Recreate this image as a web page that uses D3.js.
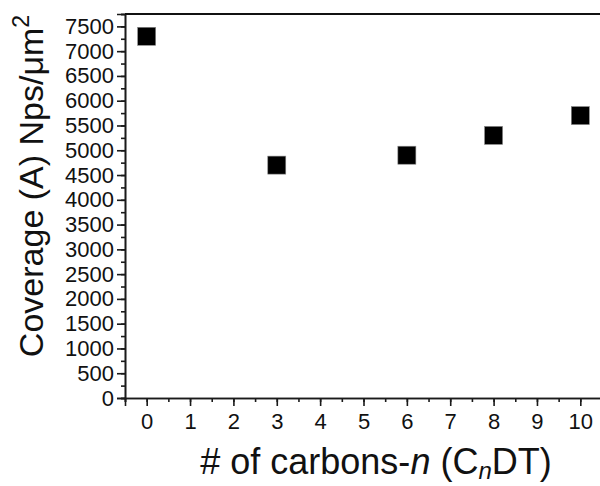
<!DOCTYPE html>
<html>
<head>
<meta charset="utf-8">
<script src="https://cdn.jsdelivr.net/npm/d3@7"></script>
<style>
  body { margin: 0; background: #fff; }
  svg { display: block; font-family: "Liberation Sans", Arial, sans-serif; }
</style>
</head>
<body>
<svg id="chart" width="600" height="486"></svg>
<script>
// data
var carbons = [0, 3, 6, 8, 10];
var coverage = [7300, 4700, 4900, 5300, 5700];
var xTicks = [0, 1, 2, 3, 4, 5, 6, 7, 8, 9, 10];
var yTicks = d3.range(0, 7501, 500);

var svg = d3.select("#chart");

var xScale = d3.scaleLinear()
    .domain([-0.5, 10.5])
    .range([125, 602]);

var yScale = d3.scaleLinear()
    .domain([0, 7750])
    .range([398, 14]);

// minor ticks
var xAxisMinor = d3.axisBottom(xScale)
    .tickValues(d3.range(-0.5, 10.6, 0.5))
    .tickSize(4)
    .tickFormat("");
var yAxisMinor = d3.axisLeft(yScale)
    .tickValues(d3.range(0, 7751, 250))
    .tickSize(4)
    .tickFormat("");

svg.append("g")
    .attr("transform", "translate(0,398)")
    .call(xAxisMinor);
svg.append("g")
    .attr("transform", "translate(125,0)")
    .call(yAxisMinor);

var xAxis = d3.axisBottom(xScale)
    .tickValues(xTicks)
    .tickSize(8)
    .tickPadding(7)
    .tickFormat(d3.format("d"));
var yAxis = d3.axisLeft(yScale)
    .tickValues(yTicks)
    .tickSize(8)
    .tickPadding(3)
    .tickFormat(d3.format("d"));

svg.append("g")
    .attr("class", "axis")
    .attr("transform", "translate(0,398)")
    .call(xAxis);
svg.append("g")
    .attr("class", "axis")
    .attr("transform", "translate(125,0)")
    .call(yAxis);

svg.selectAll(".axis text")
    .style("font-size", "22px")
    .style("font-family", "'Liberation Sans', Arial, sans-serif")
    .attr("fill", "#111");
svg.selectAll(".domain, .tick line")
    .attr("stroke", "#1a1a1a")
    .attr("stroke-width", 1.6);

// top frame line
svg.append("line")
    .attr("x1", xScale(-0.5))
    .attr("x2", 600)
    .attr("y1", yScale(7750))
    .attr("y2", yScale(7750))
    .attr("stroke", "#111")
    .attr("stroke-width", 2);

// points
var points = carbons.map(function(d, i) { return { n: d, v: coverage[i] }; });
svg.append("g")
    .selectAll("rect")
    .data(points)
    .enter().append("rect")
    .attr("x", function(d) { return xScale(d.n) - 9; })
    .attr("y", function(d) { return yScale(d.v) - 9; })
    .attr("width", 18)
    .attr("height", 18)
    .attr("fill", "#000")
    .attr("stroke", "#888")
    .attr("stroke-width", 0.6);

// axis titles
var xt = svg.append("text")
    .attr("x", 376)
    .attr("y", 474)
    .attr("text-anchor", "middle")
    .style("font-size", "36px")
    .attr("fill", "#111");
xt.append("tspan").text("# of carbons-");
xt.append("tspan").style("font-style", "italic").text("n");
xt.append("tspan").text(" (C");
xt.append("tspan").style("font-style", "italic").style("font-size", "24px")
    .attr("dy", 5).text("n");
xt.append("tspan").attr("dy", -5).text("DT)");

var yt = svg.append("text")
    .attr("transform", "translate(43,186) rotate(-90)")
    .attr("text-anchor", "middle")
    .style("font-size", "34px")
    .attr("fill", "#111");
yt.append("tspan").text("Coverage (A) Nps/\u03bcm");
yt.append("tspan").style("font-size", "23px").attr("dy", -14).text("2");
</script>
</body>
</html>
